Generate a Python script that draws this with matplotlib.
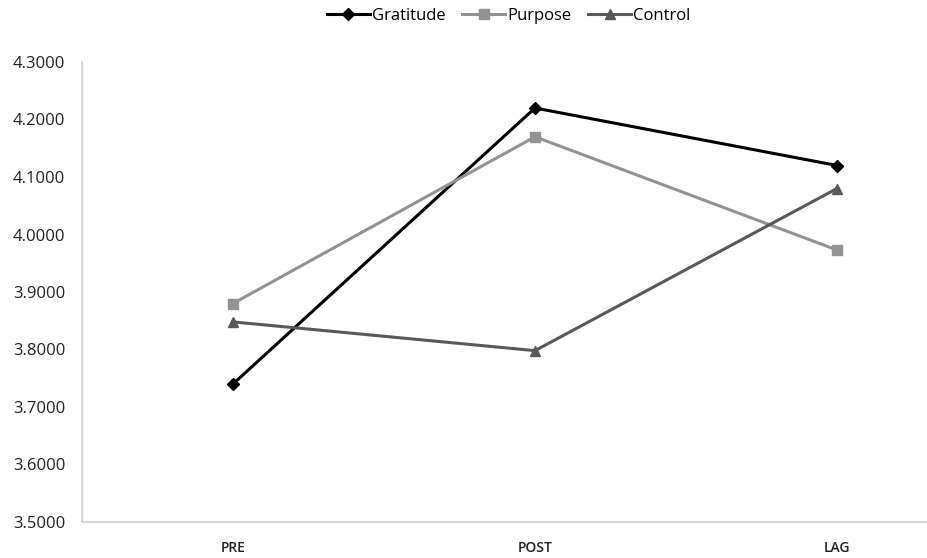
import numpy as np
import matplotlib
matplotlib.use("Agg")
import matplotlib.pyplot as plt

plt.rcParams['font.family'] = ['Open Sans', 'DejaVu Sans']

categories = ['PRE', 'POST', 'LAG']
gratitude = [3.74, 4.22, 4.12]
purpose = [3.88, 4.17, 3.973]
control = [3.848, 3.798, 4.08]

fig = plt.figure(figsize=(9.28, 5.58), dpi=100)
# axes run past the right edge, as in the reference
ax = fig.add_axes([82 / 928, 36 / 558, 906 / 928, 460 / 558])

x = np.arange(len(categories))
ax.plot(x, gratitude, color='#000000', lw=2.2, marker='D', ms=6, label='Gratitude')
ax.plot(x, purpose, color='#939393', lw=2.2, marker='s', ms=7, label='Purpose')
ax.plot(x, control, color='#595959', lw=2.2, marker='^', ms=7, label='Control')

ax.set_xlim(-0.5, 2.5)
ax.set_ylim(3.5, 4.3)
ax.set_yticks(np.arange(3.5, 4.31, 0.1))
ax.set_yticklabels([f'{v:.4f}' for v in np.arange(3.5, 4.31, 0.1)], fontsize=12, color='#222222')
ax.set_xticks(x)
ax.set_xticklabels(categories, fontsize=10, color='#222222', fontweight='semibold')
ax.tick_params(length=0)
ax.tick_params(axis='y', pad=12)
ax.tick_params(axis='x', pad=14)

for s in ['top', 'right']:
    ax.spines[s].set_visible(False)
for s in ['left', 'bottom']:
    ax.spines[s].set_color('#d0d0d0')
    ax.spines[s].set_linewidth(1.2)

fig.legend(loc='upper center', bbox_to_anchor=(0.548, 1.012), ncol=3, frameon=False,
           fontsize=12, handlelength=2.6, handletextpad=0.1, columnspacing=1.0)

fig.savefig('out.png', dpi=100)
